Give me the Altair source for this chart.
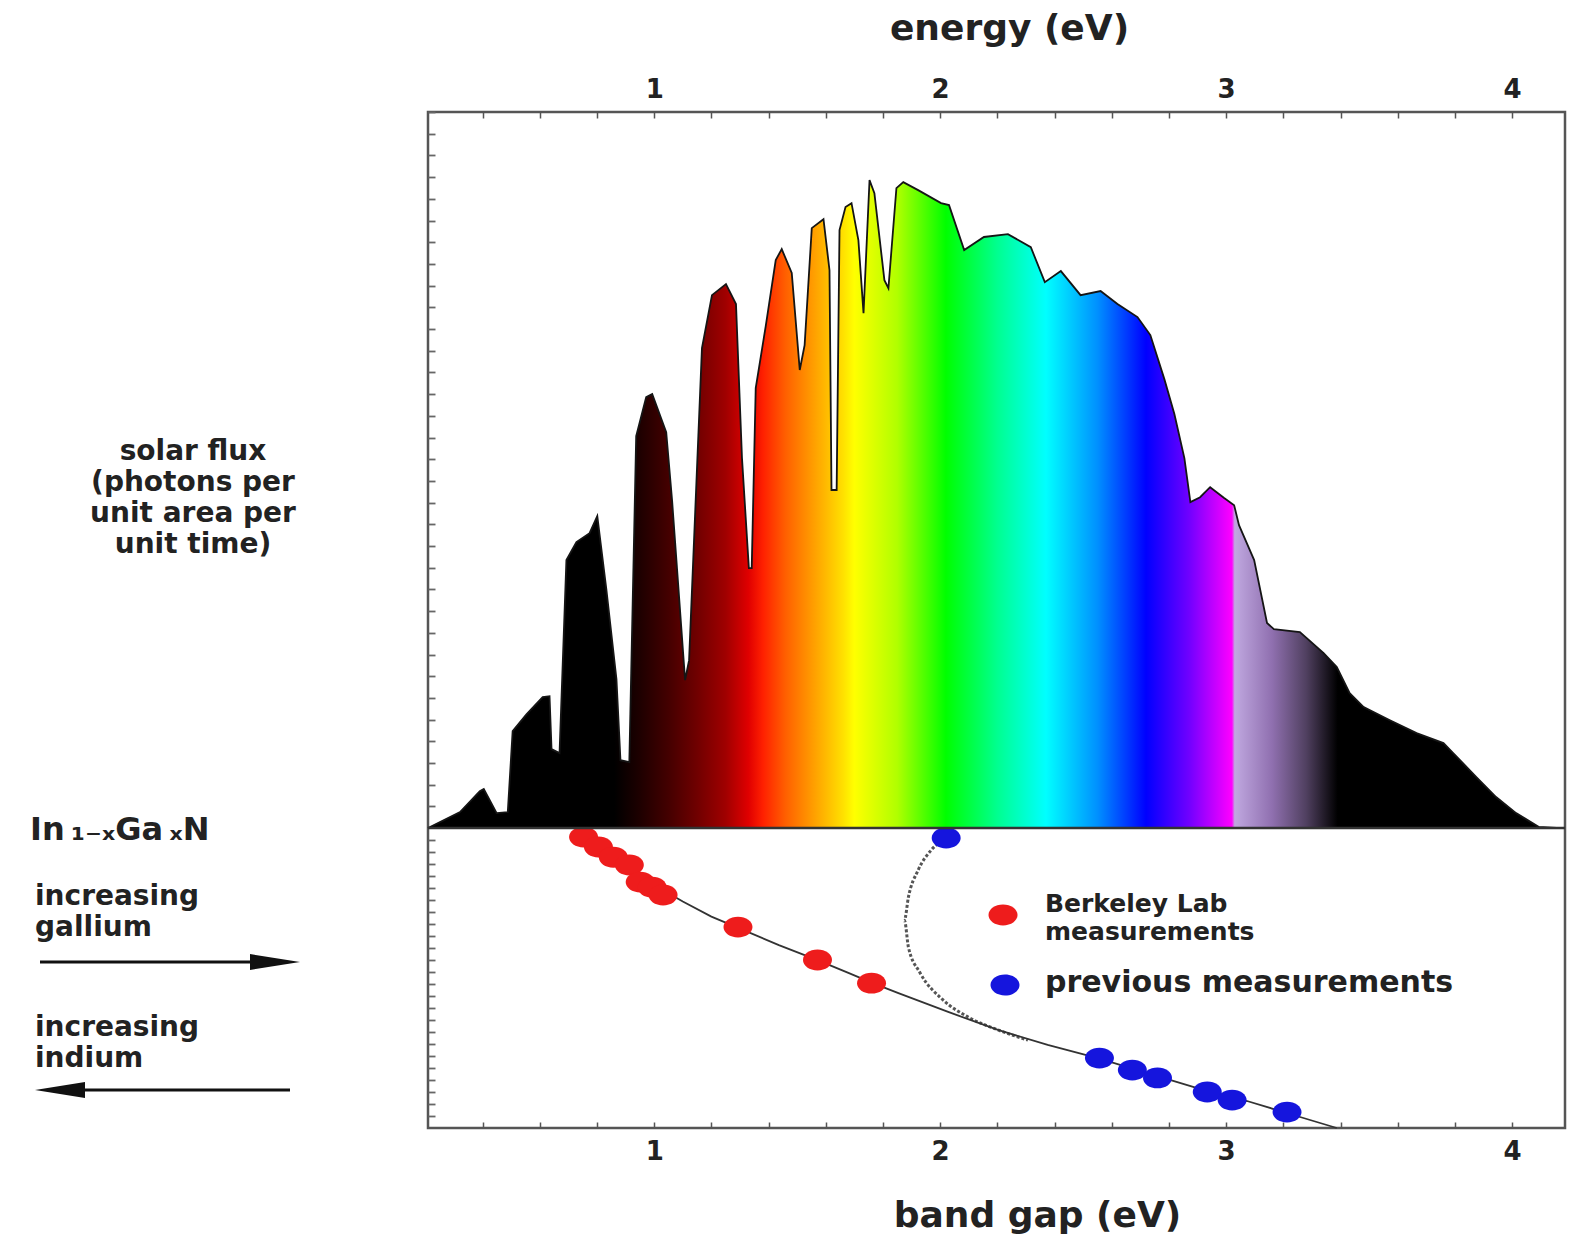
import altair as alt
import pandas as pd

# ---------------- data ----------------
# solar spectrum: photon energy (eV) and relative photon flux (arbitrary units)
SPEC_EV = [0.209, 0.321, 0.390, 0.404, 0.449, 0.488, 0.505, 0.554, 0.610, 0.634, 0.641, 0.669,
           0.693, 0.728, 0.774, 0.801, 0.833, 0.868, 0.882, 0.913, 0.937, 0.972, 0.993, 1.042,
           1.063, 1.108, 1.122, 1.167, 1.202, 1.251, 1.286, 1.307, 1.331, 1.341, 1.355, 1.390,
           1.425, 1.446, 1.481, 1.509, 1.526, 1.551, 1.592, 1.613, 1.620, 1.638, 1.648, 1.669,
           1.690, 1.714, 1.732, 1.753, 1.770, 1.805, 1.819, 1.847, 1.871, 1.923, 2.003, 2.031,
           2.084, 2.153, 2.237, 2.317, 2.366, 2.422, 2.491, 2.561, 2.620, 2.690, 2.735, 2.784,
           2.819, 2.854, 2.875, 2.909, 2.944, 2.993, 3.028, 3.045, 3.098, 3.143, 3.167, 3.258,
           3.341, 3.387, 3.432, 3.481, 3.571, 3.666, 3.760, 3.794, 3.875, 3.944, 4.014, 4.094,
           4.171]
SPEC_FLUX = [0.0, 0.74, 1.70, 1.80, 0.69, 0.74, 4.47, 5.25, 6.04, 6.08, 3.64, 3.46,
             12.35, 13.18, 13.59, 14.38, 10.97, 6.87, 3.13, 3.04, 18.06, 19.86, 20.0, 18.25,
             15.02, 6.82, 7.74, 22.12, 24.56, 25.07, 24.15, 17.05, 11.98, 11.98, 20.28, 23.13,
             26.18, 26.68, 25.58, 21.11, 22.26, 27.65, 28.06, 25.71, 15.58, 15.58, 27.56, 28.62,
             28.80, 27.10, 23.73, 29.86, 29.26, 25.25, 24.88, 29.49, 29.77, 29.40, 28.80, 28.71,
             26.64, 27.24, 27.37, 26.77, 25.16, 25.67, 24.56, 24.75, 24.15, 23.55, 22.72, 20.69,
             19.08, 17.05, 15.02, 15.25, 15.71, 15.21, 14.88, 13.96, 12.35, 9.45, 9.17, 9.03,
             8.06, 7.42, 6.22, 5.58, 4.98, 4.38, 3.92, 3.46, 2.35, 1.43, 0.69, 0.05,
             0.0]

# In(1-x)Ga(x)N band gaps: energy (eV) vs gallium fraction x
BERKELEY_EV = [0.753, 0.805, 0.857, 0.913, 0.951, 0.993, 1.031, 1.293, 1.571, 1.760]
BERKELEY_XGA = [0.030, 0.063, 0.097, 0.123, 0.180, 0.197, 0.223, 0.330, 0.440, 0.517]
PREVIOUS_EV = [2.021, 2.557, 2.672, 2.760, 2.934, 3.021, 3.213]
PREVIOUS_XGA = [0.033, 0.767, 0.807, 0.833, 0.880, 0.907, 0.947]

FIT_EV = [0.73, 0.80, 0.90, 1.00, 1.10, 1.20, 1.30, 1.436, 1.571, 1.679, 1.76, 1.854,
          2.028, 2.202, 2.376, 2.551, 2.725, 2.899, 3.073, 3.247, 3.387]
FIT_XGA = [0.0, 0.055, 0.125, 0.19, 0.245, 0.295, 0.335, 0.39, 0.44, 0.483, 0.515, 0.55,
           0.613, 0.673, 0.723, 0.767, 0.817, 0.867, 0.91, 0.96, 1.0]
OLD_FIT_EV = [2.021, 1.969, 1.923, 1.889, 1.875, 1.889, 1.930, 2.010, 2.098, 2.202, 2.307]
OLD_FIT_XGA = [0.033, 0.073, 0.14, 0.23, 0.307, 0.397, 0.483, 0.573, 0.63, 0.673, 0.707]

X_TICKS = [0.4, 0.6, 0.8, 1.0, 1.2, 1.4, 1.6, 1.8, 2.0, 2.2, 2.4, 2.6, 2.8, 3.0, 3.2, 3.4,
           3.6, 3.8, 4.0]
TOP_TITLE = "energy (eV)"
BOTTOM_TITLE = "band gap (eV)"
LEGEND_BERKELEY = "Berkeley Lab\nmeasurements"
LEGEND_PREVIOUS = "previous measurements"
Y_LABEL = "solar flux\n(photons per\nunit area per\nunit time)"
ALLOY = "In\u2009\u2081\u208b\u2093Ga\u2009\u2093N"
GALLIUM = "increasing\ngallium"
INDIUM = "increasing\nindium"

# spectral colour along the energy axis
GRAD_EV = [0.209, 0.86, 0.95, 1.05, 1.15, 1.25, 1.33, 1.38, 1.46, 1.56, 1.66, 1.70, 1.85,
           2.02, 2.20, 2.37, 2.55, 2.72, 2.87, 3.02, 3.03, 3.16, 3.28, 3.39, 4.171]
GRAD_COLORS = ["#000000", "#000000", "#1e0000", "#440000", "#700000", "#a00000", "#e00000",
               "#ff2000", "#ff6000", "#ffa000", "#ffe000", "#ffff00", "#b0ff00", "#00ff00",
               "#00ff90", "#00ffff", "#0090ff", "#0000ff", "#7000ff", "#ff00ff", "#c0a8e0",
               "#9070b0", "#504060", "#000000", "#000000"]

# ---------------- layout ----------------
W, H = 1137, 1016
FLUX_TOP = 33.0
DEPTH = 13.82          # composition 0..1 spans this many flux units below the baseline
X_DOMAIN = [0.209, 4.185]
FONT = "DejaVu Sans"
TXT = "#222222"

xscale = alt.Scale(domain=X_DOMAIN, nice=False, zero=False)
yscale = alt.Scale(domain=[-DEPTH, FLUX_TOP], nice=False, zero=False)

Y_TICKS = [float(v) for v in range(1, 34)] + [round(-DEPTH * 0.04 * k, 3) for k in range(1, 25)]

label_expr = "abs(datum.value - round(datum.value)) < 0.01 ? format(datum.value, 'd') : ''"


def x_axis(orient, title, title_x, title_y):
    return alt.Axis(orient=orient, values=X_TICKS, labelExpr=label_expr, tickSize=6, offset=-6,
                    domain=False, grid=False, labelFont=FONT, labelFontSize=26,
                    labelFontWeight="bold", labelPadding=10, labelColor=TXT,
                    labelFlush=False, labelOverlap=False, tickColor="#555", tickWidth=1.5,
                    title=title, titleFont=FONT, titleFontSize=36, titleFontWeight="bold",
                    titleColor=TXT, titleX=title_x, titleY=title_y, titleBaseline="middle",
                    titleAngle=0)


left_axis = alt.Axis(orient="left", values=Y_TICKS, labels=False, tickSize=7, offset=-7,
                     domain=False, grid=False, title=None, tickColor="#666", tickWidth=1.8)

e0, e1 = SPEC_EV[0], SPEC_EV[-1]
grad = alt.Gradient(
    gradient="linear",
    stops=[alt.GradientStop(color=c, offset=round((e - e0) / (e1 - e0), 4))
           for e, c in zip(GRAD_EV, GRAD_COLORS)],
    x1=0, x2=1, y1=0, y2=0,
)

spec = pd.DataFrame({"ev": SPEC_EV, "flux": SPEC_FLUX})
berk = pd.DataFrame({"ev": BERKELEY_EV, "xga": BERKELEY_XGA})
prev = pd.DataFrame({"ev": PREVIOUS_EV, "xga": PREVIOUS_XGA})
fit = pd.DataFrame({"ev": FIT_EV, "xga": FIT_XGA})
old = pd.DataFrame({"ev": OLD_FIT_EV, "xga": OLD_FIT_XGA, "i": list(range(len(OLD_FIT_EV)))})

ycalc = f"-datum.xga * {DEPTH}"
ELLIPSE = "M-1,0A1,0.72,0,1,1,1,0A1,0.72,0,1,1,-1,0Z"
RED = "#ee1c1c"
BLUE = "#1515dd"

old_curve = alt.Chart(old).transform_calculate(yv=ycalc).mark_line(
    color="#555555", strokeWidth=3, strokeDash=[3, 2], interpolate="monotone").encode(
    x=alt.X("ev:Q", scale=xscale, axis=None),
    y=alt.Y("yv:Q", scale=yscale, axis=None),
    order="i:Q")

fit_curve = alt.Chart(fit).transform_calculate(yv=ycalc).mark_line(
    color="#333333", strokeWidth=1.8).encode(
    x=alt.X("ev:Q", scale=xscale, axis=x_axis("bottom", BOTTOM_TITLE, 609, 93)),
    y=alt.Y("yv:Q", scale=yscale, axis=None))

red_pts = alt.Chart(berk).transform_calculate(yv=ycalc).mark_point(
    shape=ELLIPSE, filled=True, size=841, color=RED, opacity=1).encode(
    x=alt.X("ev:Q", scale=xscale, axis=None),
    y=alt.Y("yv:Q", scale=yscale, axis=None))

blue_pts = alt.Chart(prev).transform_calculate(yv=ycalc).mark_point(
    shape=ELLIPSE, filled=True, size=841, color=BLUE, opacity=1).encode(
    x=alt.X("ev:Q", scale=xscale, axis=None),
    y=alt.Y("yv:Q", scale=yscale, axis=None))

area = alt.Chart(spec).mark_area(color=grad, interpolate="linear").encode(
    x=alt.X("ev:Q", scale=xscale, axis=x_axis("top", TOP_TITLE, 581, -90)),
    y=alt.Y("flux:Q", scale=yscale, axis=left_axis),
    y2=alt.datum(0))

spec_line = alt.Chart(spec).mark_line(color="#151515", strokeWidth=1.8).encode(
    x=alt.X("ev:Q", scale=xscale, axis=None),
    y=alt.Y("flux:Q", scale=yscale, axis=None))

baseline = alt.Chart(pd.DataFrame({"v": [0]})).mark_rule(color="#333333", strokeWidth=2.5).encode(
    y=alt.Y("v:Q", scale=yscale, axis=None))


def text_layer(text, px, py, size, align="left", line_height=None):
    kw = dict(font=FONT, fontSize=size, fontWeight="bold", align=align, baseline="middle",
              color=TXT, lineBreak="\n")
    if line_height:
        kw["lineHeight"] = line_height
    return alt.Chart(pd.DataFrame({"t": [text]})).mark_text(**kw).encode(
        x=alt.value(px), y=alt.value(py), text="t:N")


def dot(px, py, color):
    return alt.Chart(pd.DataFrame({"k": [0]})).mark_point(
        shape=ELLIPSE, filled=True, size=841, color=color, opacity=1).encode(
        x=alt.value(px), y=alt.value(py))


def arrow(xa, xb, y, head_x, head_shape):
    rule = alt.Chart(pd.DataFrame({"k": [0]})).mark_rule(color="#111111", strokeWidth=3).encode(
        x=alt.value(xa), x2=alt.value(xb), y=alt.value(y))
    head = alt.Chart(pd.DataFrame({"k": [0]})).mark_point(
        shape=head_shape, filled=True, size=2500, color="#111111", opacity=1).encode(
        x=alt.value(head_x), y=alt.value(y))
    return [rule, head]


annotations = [
    dot(575, 803, RED),
    dot(577, 873, BLUE),
    text_layer(LEGEND_BERKELEY, 617, 792, 25, line_height=28),
    text_layer(LEGEND_PREVIOUS, 617, 871, 30),
    text_layer(Y_LABEL, -235, 340, 28, align="center", line_height=31),
    text_layer(ALLOY, -398, 718, 32),
    text_layer(GALLIUM, -393, 785, 28, line_height=31),
    text_layer(INDIUM, -393, 916, 28, line_height=31),
]
annotations += arrow(-388, -160, 850, -153, "M1,0L-1,-0.32L-1,0.32Z")
annotations += arrow(-368, -138, 978, -368, "M-1,0L1,-0.32L1,0.32Z")

chart = alt.layer(
    old_curve, fit_curve, red_pts, blue_pts, area, spec_line, baseline, *annotations
).resolve_axis(x="independent", y="independent").properties(
    width=W, height=H,
    padding={"left": 428, "top": 112, "right": 6, "bottom": 108},
    autosize=alt.AutoSizeParams(type="none"),
    background="white",
).configure_view(stroke="#555555", strokeWidth=2.5)

chart.save("out.html", embed_options={"renderer": "svg", "actions": False})
